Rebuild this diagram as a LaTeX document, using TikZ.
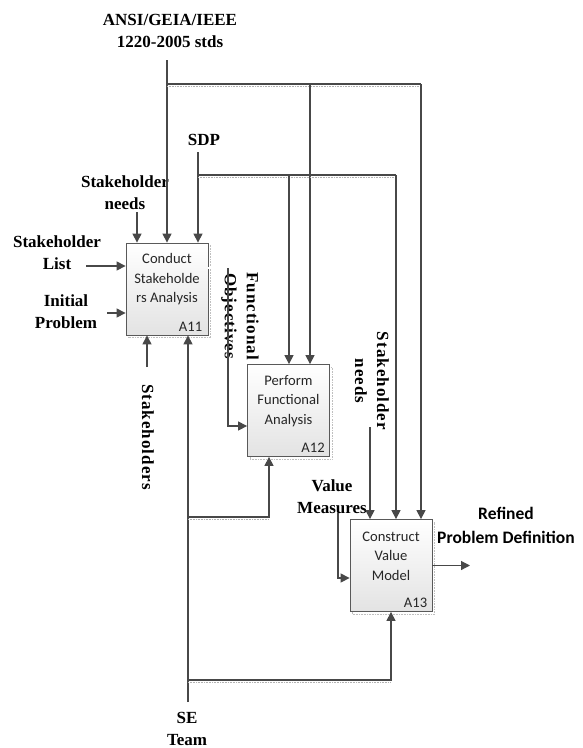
\documentclass[tikz,border=0pt]{standalone}
\usepackage{fontspec}
\setmainfont{Liberation Serif}
\newfontfamily\calfont{Carlito}
\newfontfamily\rotfont{Liberation Serif}[LetterSpace=6]
\usetikzlibrary{arrows.meta,calc}
\definecolor{lnc}{HTML}{484848}
\tikzset{
 ln/.style={draw=lnc, line width=1.2pt},
 arr/.style={ln, -{Triangle[length=9pt,width=9pt]}},
 lbl/.style={font=\fontsize{17}{22}\selectfont\bfseries, align=center, inner sep=0pt, text=black},
 rlbl/.style={font=\rotfont\fontsize{17}{22}\selectfont\bfseries, align=center, inner sep=0pt, rotate=-90, text=black},
 box/.style={draw=gray!70!black, line width=0.8pt, top color=white, bottom color=gray!22, minimum width=82pt, minimum height=92pt, inner sep=0pt},
 shbox/.style={draw=gray!50, densely dotted, line width=0.6pt, minimum width=82pt, minimum height=92pt, inner sep=0pt},
 btxt/.style={font=\calfont\fontsize{14.6}{19.5}\selectfont, align=center, text=black!85, inner sep=0pt},
 idtxt/.style={font=\calfont\fontsize{14.6}{16}\selectfont, text=black!85, inner sep=0pt, anchor=south east},
 junc/.style={draw=gray!60, densely dotted, line width=0.6pt},
 dbl/.style={draw=gray!75, double=white, double distance=1.5pt, line width=0.6pt},
}
\begin{document}
\begin{tikzpicture}[x=1pt,y=-1pt]
\fill[white] (0,0) rectangle (582,748);
\useasboundingbox (0,0) rectangle (582,748);
% boxes
\coordinate (c11) at (167,289);
\coordinate (c12) at (288.5,410.5);
\coordinate (c13) at (391,565.5);
\node[shbox] (s11) at ($(c11)+(2.5,2.5)$) {};
\node[shbox] (s12) at ($(c12)+(2.5,2.5)$) {};
\node[shbox] (s13) at ($(c13)+(2.5,2.5)$) {};
\node[box] (a11) at (c11) {};
\node[box] (a12) at (c12) {};
\node[box] (a13) at (c13) {};
\node[btxt] (t11) at ($(c11)+(0,-9.5)$) {Conduct\\Stakeholde\\rs Analysis};
\node[btxt] (t12) at ($(c12)+(0,-9.5)$) {Perform\\Functional\\Analysis};
\node[btxt] (t13) at ($(c13)+(0,-9.5)$) {Construct\\Value\\Model};
\node[idtxt] (i11) at ($(a11.south east)+(-6,-4)$) {A11};
\node[idtxt] (i12) at ($(a12.south east)+(-5,-4)$) {A12};
\node[idtxt] (i13) at ($(a13.south east)+(-5,-4)$) {A13};
% labels
\node[lbl] (ansi) at (170,30.5) {ANSI/GEIA/IEEE\\1220-2005 stds};
\node[lbl] (sdp) at (204,140) {SDP};
\node[lbl] (needs1) at (125,192.5) {Stakeholder\\needs};
\node[lbl] (slist) at (57,252.5) {Stakeholder\\List};
\node[lbl] (iprob) at (66,311.5) {Initial\\Problem};
\node[rlbl] (shs) at (148,437) {Stakeholders};
\node[rlbl] (fobj) at (240,316) {Functional\\Objectives};
\node[rlbl] (needs2) at (372,381) {Stakeholder\\needs};
\node[lbl] (vm) at (332,496.5) {Value\\Measures};
\node[font=\calfont\fontsize{17.5}{24}\selectfont\bfseries, align=center, inner sep=0pt] (rpd) at (506,525) {Refined\\Problem Definition};
\node[lbl] (se) at (187,729) {SE\\Team};
% ANSI controls
\coordinate (ansiS) at (167,60);
\coordinate (jA) at (167,84);
\coordinate (jA2) at (310,84);
\coordinate (jA3) at (421,84);
\draw[arr] (ansiS) -- (ansiS |- a11.north);
\draw[ln] (jA) -- (jA3);
\draw[junc] ($(jA)+(0,2)$) -- ($(jA3)+(0,2)$);
\draw[arr] (jA2) -- (jA2 |- a12.north);
\draw[arr] (jA3) -- (jA3 |- a13.north);
% SDP controls
\coordinate (sdpS) at (198,152);
\coordinate (jS) at (198,175);
\coordinate (jS2) at (289,175);
\coordinate (jS3) at (396,175);
\draw[arr] (sdpS) -- (sdpS |- a11.north);
\draw[ln] (jS) -- (jS3);
\draw[junc] ($(jS)+(0,2)$) -- ($(jS3)+(0,2)$);
\draw[arr] (jS2) -- (jS2 |- a12.north);
\draw[arr] (jS3) -- (jS3 |- a13.north);
% other inputs to A11
\coordinate (nd1) at (137,212);
\draw[arr] (nd1) -- (nd1 |- a11.north);
\coordinate (sl) at (86,266);
\draw[arr] (sl) -- (sl -| a11.west);
\coordinate (ip) at (107,313);
\draw[arr] (ip) -- (ip -| a11.west);
\coordinate (sh) at (147,367);
\draw[arr] (sh) -- (sh |- a11.south);
% SE Team mechanism
\coordinate (seS) at (188,702);
\coordinate (jT1) at (188,517);
\coordinate (jT1e) at (269,517);
\coordinate (jT2) at (188,680);
\coordinate (jT2e) at (391,680);
\draw[arr] (seS) -- (seS |- a11.south);
\draw[arr] (jT1) -- (jT1e) -- (jT1e |- a12.south);
\draw[junc] ($(jT1)+(0,2)$) -- ($(jT1e)+(0,2)$);
\draw[arr] (jT2) -- (jT2e) -- (jT2e |- a13.south);
\draw[junc] ($(jT2)+(0,2)$) -- ($(jT2e)+(0,2)$);
% Functional objectives
\coordinate (fo1) at (228,268);
\coordinate (fo2) at (228,426);
\draw[dbl] (fo1 -| a11.east) -- (fo1);
\draw[arr] (fo1) -- (fo2) -- (fo2 -| a12.west);
% A12 stub
\coordinate (st1) at (343,418);
\coordinate (st2) at (343,452);
\draw[dbl] (st1 -| a12.east) -- (st1) -- (st2);
% A13 inputs
\coordinate (nd2) at (370,427);
\draw[arr] (nd2) -- (nd2 |- a13.north);
\coordinate (vm1) at (338,513);
\coordinate (vm2) at (338,578);
\draw[arr] (vm1) -- (vm2) -- (vm2 -| a13.west);
% output
\coordinate (out) at (470,565.5);
\draw[arr] (a13.east) -- (out);
\end{tikzpicture}
\end{document}
